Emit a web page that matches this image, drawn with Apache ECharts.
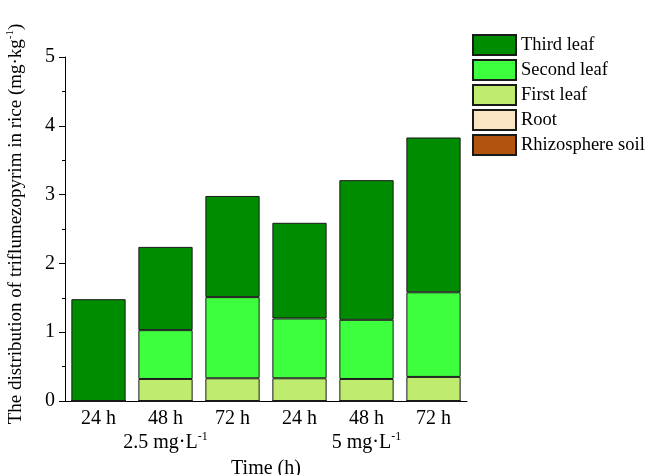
<!DOCTYPE html>
<html>
<head>
<meta charset="utf-8">
<script src="https://cdn.jsdelivr.net/npm/echarts@6/dist/echarts.min.js"></script>
<style>
  html, body { margin: 0; padding: 0; background: #fff; }
  #chart { width: 650px; height: 475px; }
</style>
</head>
<body>
<div id="chart"></div>
<script>
const times = ['24 h', '48 h', '72 h', '24 h', '48 h', '72 h']
const doses = ['2.5', '5']

// stacked parts, mg/kg
const rhizosphereSoil = [0, 0, 0, 0, 0, 0]
const root = [0, 0, 0, 0, 0, 0]
const firstLeaf = [0, 0.32, 0.33, 0.33, 0.32, 0.35]
const secondLeaf = [0, 0.71, 1.18, 0.87, 0.86, 1.23]
const thirdLeaf = [1.48, 1.21, 1.47, 1.39, 2.03, 2.25]

const font = 'Liberation Serif'

const parts = [
  { name: 'Rhizosphere soil', data: rhizosphereSoil, color: '#b0540f' },
  { name: 'Root', data: root, color: '#f9e5c4' },
  { name: 'First leaf', data: firstLeaf, color: '#bfec6e' },
  { name: 'Second leaf', data: secondLeaf, color: '#3dff3d' },
  { name: 'Third leaf', data: thirdLeaf, color: '#008c00' },
]

// superscript helper styles for rich text
const sup = size => ({
  t: { fontFamily: font, fontSize: size, color: '#000', lineHeight: size + 4 },
  s: { fontFamily: font, fontSize: Math.round(size * 0.6), color: '#000', verticalAlign: 'top', lineHeight: size + 4 },
})

const chart = echarts.init(document.getElementById('chart'), null, { renderer: 'canvas' })

chart.setOption({
  backgroundColor: '#fff',
  animation: false,
  textStyle: { fontFamily: font, color: '#000' },
  grid: { left: 65, top: 57, width: 402, height: 344, outerBoundsMode: 'none', containLabel: false },
  legend: {
    orient: 'vertical',
    left: 467,
    top: 29,
    itemWidth: 43,
    itemHeight: 20,
    itemGap: 3,
    icon: 'rect',
    data: ['Third leaf', 'Second leaf', 'First leaf', 'Root', 'Rhizosphere soil'],
    textStyle: { fontFamily: font, fontSize: 18.5, color: '#000' },
  },
  xAxis: [
    {
      type: 'category',
      data: times,
      axisLine: { lineStyle: { color: '#000', width: 1 } },
      axisTick: { show: false },
      axisLabel: { fontFamily: font, fontSize: 20, color: '#000', margin: 8 },
    },
    {
      type: 'category',
      data: doses,
      position: 'bottom',
      offset: 22,
      axisLine: { show: false },
      axisTick: { show: false },
      axisLabel: {
        margin: 8,
        formatter: v => '{t|' + v + ' mg·L}{s|-1}',
        rich: sup(20),
      },
      name: 'Time (h)',
      nameLocation: 'middle',
      nameGap: 36,
      nameTextStyle: { fontFamily: font, fontSize: 20, color: '#000' },
    },
  ],
  yAxis: {
    type: 'value',
    min: 0,
    max: 5,
    interval: 1,
    axisLine: { show: true, lineStyle: { color: '#000', width: 1 } },
    axisTick: { show: true, inside: false, length: 6, lineStyle: { color: '#000' } },
    minorTick: { show: true, splitNumber: 2, length: 3, lineStyle: { color: '#000' } },
    splitLine: { show: false },
    axisLabel: { fontFamily: font, fontSize: 20, color: '#000', margin: 10 },
    name: '{t|The distribution of triflumezopyrim in rice (mg·kg}{s|-1}{t|)}',
    nameLocation: 'middle',
    nameGap: 37,
    nameTextStyle: { rich: sup(19), padding: [0, 0, 0, 10] },
  },
  series: parts.map(p => ({
    name: p.name,
    type: 'bar',
    stack: 'total',
    data: p.data,
    barCategoryGap: '19%',
    itemStyle: { color: p.color, borderColor: '#1a1a1a', borderWidth: 1 },
  })),
})
</script>
</body>
</html>
